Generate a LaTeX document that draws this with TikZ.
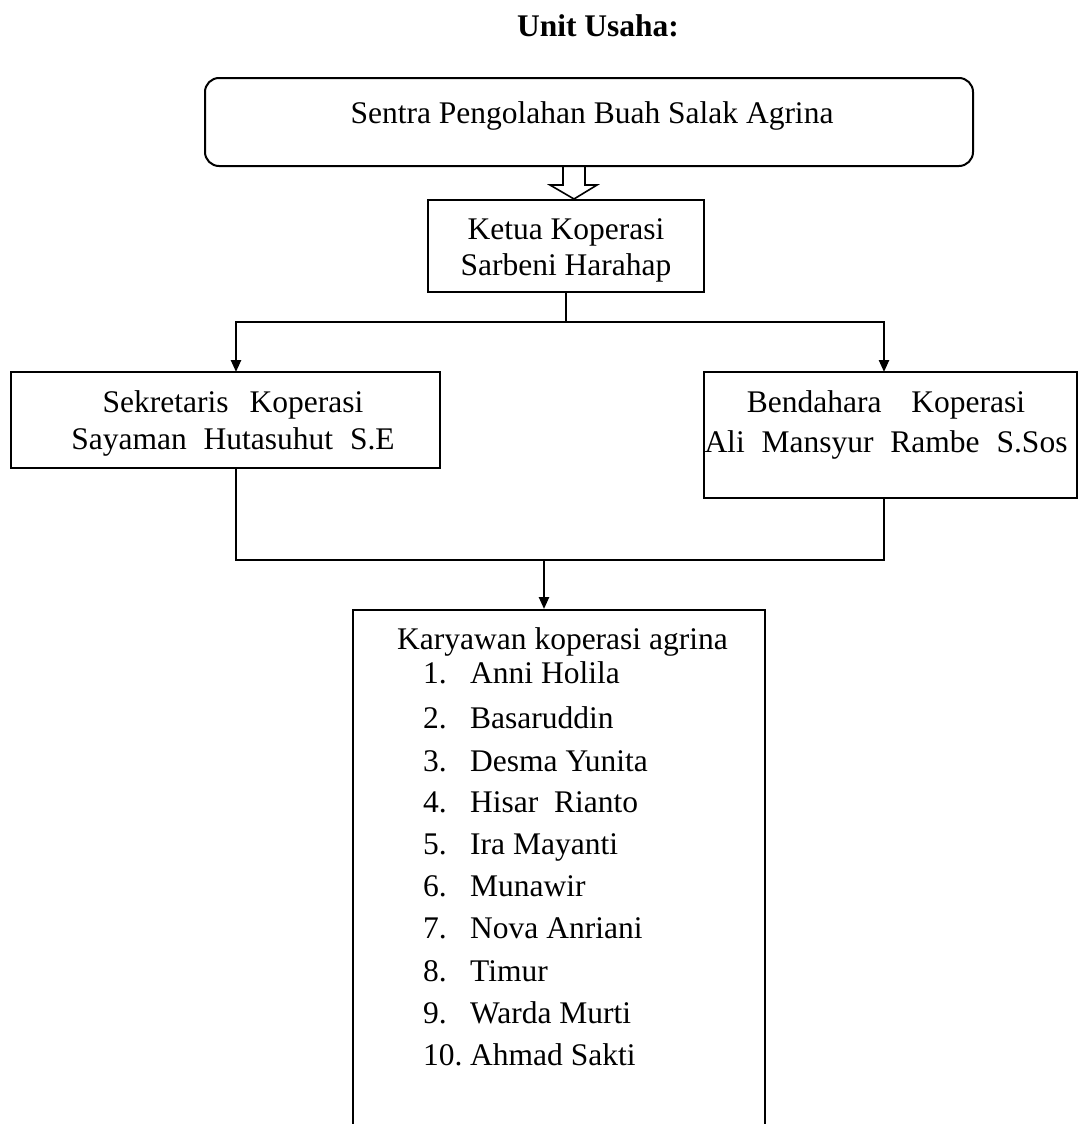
\documentclass[tikz,border=0pt]{standalone}
\usepackage{fontspec}
\setmainfont{Liberation Serif}
\usetikzlibrary{arrows.meta}
\begin{document}
\begin{tikzpicture}[x=1pt,y=-1pt,
  box/.style={draw=black,line width=2pt,rectangle,inner sep=0pt},
  txt/.style={anchor=base,inner sep=0pt,font=\fontsize{31.5}{36}\selectfont},
  litem/.style={anchor=base west,inner sep=0pt,font=\fontsize{31.5}{36}\selectfont},
  conn/.style={line width=2.4pt},
  arr/.style={line width=2.4pt,-{Triangle[width=10pt,length=12pt]}},
  thinline/.style={line width=1.3pt}]
\useasboundingbox (0,0) rectangle (1084,1124);
\clip (0,0) rectangle (1084,1124);
% title
\node[txt,font=\fontsize{31.5}{36}\selectfont\bfseries] (title) at (598,37) {Unit Usaha:};
% top box
\node[box,rounded corners=14pt,minimum width=768pt,minimum height=88pt] (top) at (589,122) {};
\node[txt] (toptxt) at (592,123) {Sentra Pengolahan Buah Salak Agrina};
% ketua
\node[box,minimum width=276pt,minimum height=92pt] (ketua) at (566,246) {};
\node[txt] (k1) at (566,239) {Ketua Koperasi};
\node[txt] (k2) at (566,275) {Sarbeni Harahap};
% hollow arrow
\draw[line width=1.6pt,line join=miter] (563,166) -- (563,185) -- (550,185) -- (574,199) -- (597,185) -- (585,185) -- (585,166);
% sekretaris
\node[box,minimum width=429pt,minimum height=96pt] (sek) at (225.5,420) {};
\node[txt] (s1) at (233,412) {Sekretaris\hspace{13pt} Koperasi};
\node[txt] (s2) at (233,449) {Sayaman\hspace{9pt} Hutasuhut\hspace{9pt} S.E};
% bendahara
\node[box,minimum width=373pt,minimum height=126pt] (ben) at (890.5,435) {};
\node[txt] (b1) at (886,412) {Bendahara\hspace{22pt} Koperasi};
\node[txt] (b2) at (886,452) {Ali\hspace{9pt} Mansyur\hspace{9pt} Rambe\hspace{9pt} S.Sos};
% karyawan
\node[box,minimum width=412pt,minimum height=560pt,anchor=north] (kary) at (559,609) {};
\node[txt,anchor=base west] (kt) at (397,649) {Karyawan koperasi agrina};
\foreach \n/\name/\y in {1/Anni Holila/683, 2/Basaruddin/728, 3/Desma Yunita/771, 4/Hisar\ \ Rianto/812, 5/Ira Mayanti/854, 6/Munawir/896, 7/Nova Anriani/938, 8/Timur/981, 9/Warda Murti/1023}{
  \node[litem] (num\n) at (423,\y) {\n.};
  \node[litem] (nm\n) at (470,\y) {\name};
}
\node[litem] (num10) at (423,1065) {10.};
\node[litem] (nm10) at (470,1065) {Ahmad Sakti};
% connectors
\coordinate (jt) at (566,322);
\coordinate (sekL) at (236,372);
\coordinate (benR) at (884,372);
\coordinate (jb) at (544,560);
\draw[thinline] (ketua.south) -- (jt);
\draw[arr] (jt) -| (sekL);
\draw[arr] (jt) -| (benR);
\draw[conn] (sekL |- sek.south) -- (sekL |- jb) -- (benR |- jb) -- (benR |- ben.south);
\draw[arr] (jb) -- (jb |- kary.north);
\end{tikzpicture}
\end{document}
